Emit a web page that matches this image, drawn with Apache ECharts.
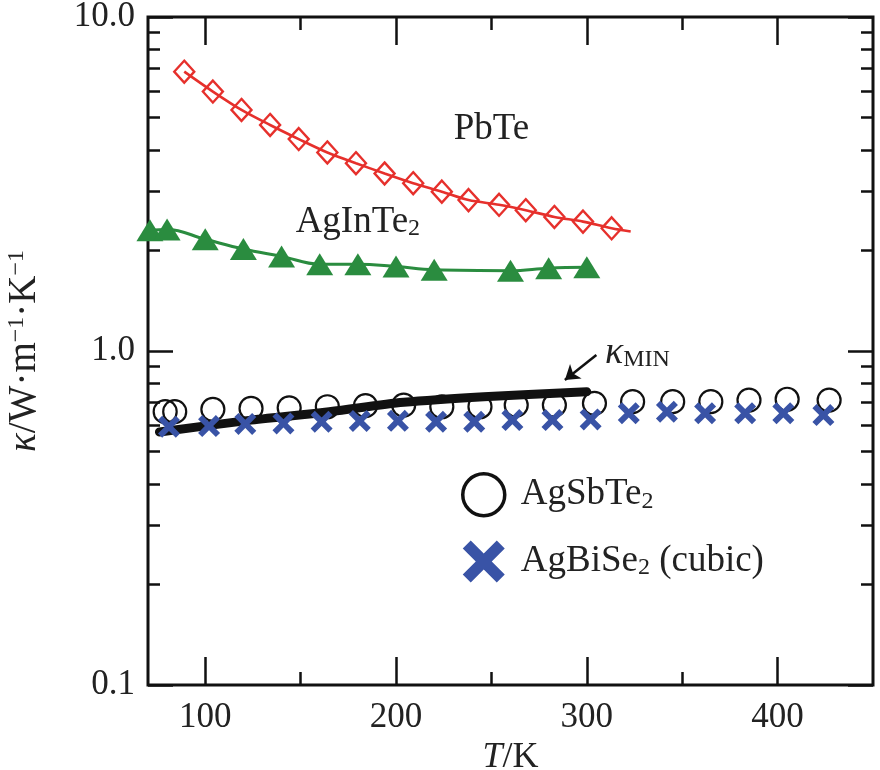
<!DOCTYPE html>
<html>
<head>
<meta charset="utf-8">
<script src="https://cdn.jsdelivr.net/npm/echarts@6/dist/echarts.min.js"></script>
<style>
  html, body { margin: 0; padding: 0; background: #fff; }
  #chart { width: 880px; height: 770px; }
</style>
</head>
<body>
<div id="chart"></div>
<script>
// values
var pbteT = [89, 104, 119, 134, 149, 164, 179, 194, 209, 224, 238, 254, 268, 283, 298, 313];
var pbteK = [6.86, 5.98, 5.27, 4.75, 4.31, 3.93, 3.65, 3.40, 3.18, 3.00, 2.83, 2.74, 2.64, 2.52, 2.44, 2.33];
var pbteFitEnd = [323, 2.28]; // fitted line runs a bit past the last point

var aginT = [71, 80, 100, 120, 140, 160, 180, 200, 220, 260, 280, 300];
var aginK = [2.30, 2.31, 2.16, 2.02, 1.92, 1.82, 1.82, 1.79, 1.75, 1.74, 1.77, 1.78];

var agsbT = [79, 84, 104, 124, 144, 164, 184, 204, 224, 244, 263, 283, 304, 324, 345, 365, 385, 405, 427];
var agsbK = [0.658, 0.658, 0.669, 0.673, 0.676, 0.681, 0.686, 0.689, 0.681, 0.681, 0.689, 0.689, 0.697, 0.705, 0.705, 0.705, 0.713, 0.717, 0.713];

var agbiT = [81, 102, 121, 141, 161, 181, 201, 221, 241, 261, 282, 302, 322, 342, 362, 383, 403, 424];
var agbiK = [0.593, 0.596, 0.605, 0.607, 0.614, 0.617, 0.618, 0.614, 0.614, 0.621, 0.621, 0.624, 0.651, 0.658, 0.651, 0.651, 0.651, 0.643];

var kminT = [76, 124, 165, 204, 246, 300];
var kminK = [0.572, 0.621, 0.658, 0.702, 0.730, 0.755];

var xMajor = [100, 200, 300, 400];
var xMinor = [150, 250, 350];
var yMajor = [0.1, 1, 10];
var yMinor = [0.2, 0.3, 0.4, 0.5, 0.6, 0.7, 0.8, 0.9, 2, 3, 4, 5, 6, 7, 8, 9];

var FONT = "'Liberation Serif', 'DejaVu Serif', serif";
var RED = '#e6302c', GREEN = '#2a8c3f', BLUE = '#3953a6', INK = '#111';
var crossPath = 'path://M1.9,0 L5,3.1 L8.1,0 L10,1.9 L6.9,5 L10,8.1 L8.1,10 L5,6.9 L1.9,10 L0,8.1 L3.1,5 L0,1.9 Z';

function pairs(xs, ys) {
  return xs.map(function (x, i) { return [x, ys[i]]; });
}

var subRich = { fontFamily: FONT, fontSize: 24, lineHeight: 14, verticalAlign: 'bottom', color: '#222' };
var supRich = { fontFamily: FONT, fontSize: 24, lineHeight: 16, verticalAlign: 'top', color: '#222' };

function xAx(pos, ticks, len, withLabels) {
  return {
    type: 'value', min: 70, max: 450, position: pos,
    axisLine: { show: false },
    splitLine: { show: false },
    axisTick: { show: true, inside: true, length: len, customValues: ticks, lineStyle: { color: INK, width: 2.5 } },
    axisLabel: withLabels ? {
      show: true, customValues: ticks, margin: 15,
      fontFamily: FONT, fontSize: 35, color: '#222'
    } : { show: false },
    name: withLabels ? '{i|T}/K' : '',
    nameLocation: 'middle', nameGap: 37,
    nameTextStyle: {
      fontFamily: FONT, fontSize: 36, color: '#222',
      rich: { i: { fontFamily: FONT, fontSize: 36, fontStyle: 'italic', color: '#222' } }
    }
  };
}

function yAx(pos, ticks, len, withLabels) {
  return {
    type: 'log', min: 0.1, max: 10, position: pos,
    axisLine: { show: false },
    splitLine: { show: false },
    minorTick: { show: false },
    axisTick: { show: true, inside: true, length: len, customValues: ticks, lineStyle: { color: INK, width: 2.5 } },
    axisLabel: withLabels ? {
      show: true, customValues: ticks, margin: 13,
      fontFamily: FONT, fontSize: 35, color: '#222',
      formatter: function (v) { return Number(v).toFixed(1); }
    } : { show: false },
    name: withLabels ? '{k|κ}/W·m{s|−1}·K{s|−1}' : '',
    nameLocation: 'middle', nameGap: 104, nameRotate: 90,
    nameTextStyle: {
      fontFamily: FONT, fontSize: 39, color: '#222',
      rich: {
        k: { fontFamily: FONT, fontSize: 39, fontStyle: 'italic', color: '#222' },
        s: supRich
      }
    }
  };
}

var chart = echarts.init(document.getElementById('chart'), null, { renderer: 'canvas' });

var option = {
  animation: false,
  backgroundColor: '#fff',
  grid: {
    left: 148, right: 7, top: 17, bottom: 85,
    outerBoundsMode: 'none', containLabel: false,
    show: true, borderColor: INK, borderWidth: 3, backgroundColor: 'transparent'
  },
  xAxis: [
    xAx('bottom', xMajor, 28, true),
    xAx('bottom', xMinor, 13, false),
    xAx('top', xMajor, 28, false),
    xAx('top', xMinor, 13, false)
  ],
  yAxis: [
    yAx('left', yMajor, 25, true),
    yAx('left', yMinor, 12, false),
    yAx('right', yMajor, 25, false),
    yAx('right', yMinor, 12, false)
  ],
  legend: {
    orient: 'vertical', left: 456, top: 467,
    itemWidth: 42, itemHeight: 42, itemGap: 23,
    selectedMode: false,
    data: [
      { name: 'AgSbTe2', icon: 'circle', itemStyle: { color: 'transparent', borderColor: INK, borderWidth: 3.5, opacity: 1 } },
      { name: 'AgBiSe2 (cubic)', icon: crossPath, itemStyle: { color: BLUE, borderWidth: 0, opacity: 1 } }
    ],
    formatter: function (n) { return n.replace('2', '{sub|2}'); },
    textStyle: {
      fontFamily: FONT, fontSize: 37, color: '#222', padding: [0, 0, 0, 11],
      rich: { sub: subRich }
    }
  },
  series: [
    {
      name: 'PbTe', type: 'line', smooth: 0.3, z: 3,
      data: pairs(pbteT, pbteK).concat([{ value: pbteFitEnd, symbol: 'none' }]),
      symbol: 'diamond', symbolSize: [20, 22],
      itemStyle: { color: 'transparent', borderColor: RED, borderWidth: 2.4 },
      lineStyle: { color: RED, width: 2.6 },
      markPoint: {
        symbol: 'rect', symbolSize: 0, silent: true,
        data: [{ coord: [250, 4.6], label: { show: true, position: 'inside', formatter: 'PbTe', fontFamily: FONT, fontSize: 37, color: '#222' } }]
      }
    },
    {
      name: 'AgInTe2', type: 'line', smooth: 0.4, z: 3,
      data: pairs(aginT, aginK),
      symbol: 'triangle', symbolSize: [27, 22],
      itemStyle: { color: GREEN },
      lineStyle: { color: GREEN, width: 3 },
      markPoint: {
        symbol: 'rect', symbolSize: 0, silent: true,
        data: [{
          coord: [180, 2.43],
          label: {
            show: true, position: 'inside', formatter: 'AgInTe{sub|2}',
            fontFamily: FONT, fontSize: 37, color: '#222', rich: { sub: subRich }
          }
        }]
      }
    },
    {
      name: 'AgSbTe2', type: 'scatter', z: 3,
      data: pairs(agsbT, agsbK),
      symbol: 'circle', symbolSize: 23,
      itemStyle: { color: 'transparent', borderColor: INK, borderWidth: 2.2, opacity: 1 }
    },
    {
      name: 'κMIN', type: 'line', smooth: 0.3, z: 4,
      data: pairs(kminT, kminK),
      symbol: 'none',
      lineStyle: { color: INK, width: 9, cap: 'round' },
      markLine: {
        silent: true, symbol: ['none', 'arrow'], symbolSize: 14,
        label: { show: false },
        lineStyle: { color: INK, width: 2.5, type: 'solid' },
        data: [[{ coord: [305, 0.973] }, { coord: [288.5, 0.819] }]]
      },
      markPoint: {
        symbol: 'rect', symbolSize: 0, silent: true,
        data: [{
          coord: [309.5, 0.985],
          label: {
            show: true, position: 'right', distance: 0, formatter: '{k|κ}{s|MIN}',
            rich: {
              k: { fontFamily: FONT, fontSize: 38, fontStyle: 'italic', color: '#222' },
              s: subRich
            }
          }
        }]
      }
    },
    {
      name: 'AgBiSe2 (cubic)', type: 'scatter', z: 5,
      data: pairs(agbiT, agbiK),
      symbol: crossPath, symbolSize: 22,
      itemStyle: { color: BLUE, opacity: 1 }
    }
  ]
};

chart.setOption(option);
</script>
</body>
</html>
